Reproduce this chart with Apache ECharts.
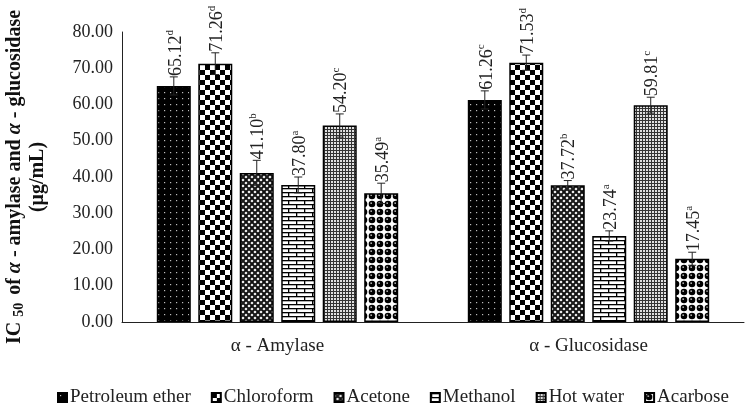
<!DOCTYPE html>
<html>
<head>
<meta charset="utf-8">
<script src="https://cdn.jsdelivr.net/npm/echarts@6/dist/echarts.min.js"></script>
<style>
  html, body { margin: 0; padding: 0; background: #fff; }
  #chart { width: 747px; height: 405px; }
</style>
</head>
<body>
<div id="chart"></div>
<script>
// data
const categories = ['α - Amylase', 'α - Glucosidase'];
const seriesNames = ['Petroleum ether', 'Chloroform', 'Acetone', 'Methanol', 'Hot water', 'Acarbose'];
const petroleumEther = [65.12, 61.26];
const chloroform = [71.26, 71.53];
const acetone = [41.10, 37.72];
const methanol = [37.80, 23.74];
const hotWater = [54.20, 59.81];
const acarbose = [35.49, 17.45];
const seriesValues = [petroleumEther, chloroform, acetone, methanol, hotWater, acarbose];
const errors = [[2.5, 2.5], [3.0, 2.1], [3.5, 1.3], [2.2, 1.4], [3.2, 2.2], [2.8, 1.8]];
const letters = [['d', 'c'], ['d', 'd'], ['b', 'b'], ['a', 'a'], ['c', 'c'], ['a', 'a']];
const yTicks = [0, 10, 20, 30, 40, 50, 60, 70, 80];

const FONT = '"Liberation Serif", "Times New Roman", serif';
const BAR_W = 34;
const BAR_GAP = 0.22;

// fill patterns
function makePattern(w, h, draw) {
  const c = document.createElement('canvas');
  c.width = w; c.height = h;
  draw(c.getContext('2d'));
  return { image: c, repeat: 'repeat' };
}
const patterns = [
  makePattern(6, 6, g => { // black with small dots
    g.fillStyle = '#000'; g.fillRect(0, 0, 6, 6);
    g.fillStyle = '#bbb'; g.fillRect(2, 2, 1.2, 1.2);
  }),
  makePattern(10, 10, g => { // checkerboard
    g.fillStyle = '#fff'; g.fillRect(0, 0, 10, 10);
    g.fillStyle = '#000'; g.fillRect(0, 0, 5, 5); g.fillRect(5, 5, 5, 5);
  }),
  makePattern(6, 6, g => { // dark diamond lattice
    g.fillStyle = '#fff'; g.fillRect(0, 0, 6, 6);
    g.strokeStyle = '#111'; g.lineWidth = 2;
    g.beginPath();
    g.moveTo(0, 0); g.lineTo(6, 6);
    g.moveTo(6, 0); g.lineTo(0, 6);
    g.stroke();
    g.fillStyle = '#444'; g.fillRect(2.5, 2.5, 1, 1);
  }),
  makePattern(16, 8, g => { // brick
    g.fillStyle = '#fff'; g.fillRect(0, 0, 16, 8);
    g.fillStyle = '#000';
    g.fillRect(0, 0, 16, 1.3); g.fillRect(0, 4, 16, 1.3);
    g.fillRect(0, 0, 1.3, 4); g.fillRect(8, 4, 1.3, 4);
  }),
  makePattern(3, 3, g => { // fine grid
    g.fillStyle = '#e0e0e0'; g.fillRect(0, 0, 3, 3);
    g.fillStyle = '#333'; g.fillRect(0, 0, 3, 1); g.fillRect(0, 0, 1, 3);
  }),
  makePattern(8, 8, g => { // spheres
    g.fillStyle = '#fff'; g.fillRect(0, 0, 8, 8);
    g.fillStyle = '#000';
    g.beginPath(); g.arc(4, 4, 3.3, 0, Math.PI * 2); g.fill();
    g.fillStyle = '#fff'; g.fillRect(2.5, 2.5, 1.3, 1.3);
  })
];

const chart = echarts.init(document.getElementById('chart'), null, { renderer: 'canvas' });

const barSeries = seriesNames.map((name, i) => ({
  name: name,
  type: 'bar',
  barWidth: BAR_W,
  barGap: (BAR_GAP * 100) + '%',
  data: seriesValues[i],
  itemStyle: { color: patterns[i], borderColor: '#000', borderWidth: 1.5 },
  emphasis: { disabled: true },
  z: 2
}));

const errSeries = seriesNames.map((name, i) => ({
  name: 'err-' + i,
  type: 'custom',
  z: 5,
  silent: true,
  data: seriesValues[i].map((v, k) => [k, v, errors[i][k]]),
  encode: { x: 0, y: 1 },
  renderItem: (params, api) => {
    const k = params.dataIndex;
    const v = api.value(1), e = api.value(2);
    const off = (i - (seriesNames.length - 1) / 2) * BAR_W * (1 + BAR_GAP);
    const top = api.coord([api.value(0), v + e]);
    const bot = api.coord([api.value(0), v - e]);
    const x = top[0] + off;
    const cap = 4;
    const ls = { stroke: '#222', lineWidth: 1 };
    return {
      type: 'group',
      children: [
        { type: 'line', shape: { x1: x, y1: top[1], x2: x, y2: bot[1] }, style: ls },
        { type: 'line', shape: { x1: x - cap, y1: top[1], x2: x + cap, y2: top[1] }, style: ls },
        { type: 'line', shape: { x1: x - cap, y1: bot[1], x2: x + cap, y2: bot[1] }, style: ls },
        {
          type: 'text',
          x: x + 1,
          y: top[1] - 1,
          rotation: Math.PI / 2,
          style: {
            text: '{v|' + seriesValues[i][k].toFixed(2) + '}{s|' + letters[i][k] + '}',
            align: 'left',
            verticalAlign: 'middle',
            fill: '#222',
            rich: {
              v: { fontFamily: FONT, fontSize: 18, lineHeight: 20, fill: '#222', verticalAlign: 'bottom' },
              s: { fontFamily: FONT, fontSize: 11, lineHeight: 20, fill: '#222', verticalAlign: 'top', padding: [0, 0, 7, 0] }
            }
          }
        }
      ]
    };
  }
}));

const option = {
  backgroundColor: '#fff',
  animation: false,
  grid: { left: 122, right: 3, top: 32, bottom: 83, outerBoundsMode: 'none', containLabel: false },
  legend: {
    data: seriesNames,
    top: 383,
    left: 52,
    itemWidth: 9,
    itemHeight: 9,
    itemGap: 20,
    icon: 'rect',
    textStyle: { fontFamily: FONT, fontSize: 19, color: '#222', padding: [0, 0, 0, -2] }
  },
  xAxis: {
    type: 'category',
    data: categories,
    axisLine: { lineStyle: { color: '#222', width: 1 } },
    axisTick: { show: false },
    axisLabel: {
      margin: 15,
      fontFamily: FONT,
      fontSize: 19,
      color: '#222'
    }
  },
  yAxis: {
    type: 'value',
    min: yTicks[0],
    max: yTicks[yTicks.length - 1],
    interval: 10,
    splitLine: { show: false },
    axisLine: { show: true, lineStyle: { color: '#222', width: 1 } },
    axisTick: { show: false },
    axisLabel: {
      margin: 9,
      fontFamily: FONT,
      fontSize: 18,
      color: '#222',
      formatter: v => v.toFixed(2)
    },
    name: '{b|IC }{sub|50}{b| of }{i|α}{b| - amylase and }{i|α}{b| - glucosidase}\n{b|(μg/mL)}',
    nameLocation: 'middle',
    nameRotate: 90,
    nameGap: 73,
    nameTextStyle: {
      align: 'center',
      rich: {
        b: { fontFamily: FONT, fontSize: 20, fontWeight: 'bold', color: '#111', lineHeight: 23 },
        i: { fontFamily: FONT, fontSize: 20, fontWeight: 'bold', fontStyle: 'italic', color: '#111', lineHeight: 23 },
        sub: { fontFamily: FONT, fontSize: 14, fontWeight: 'bold', color: '#111', lineHeight: 23, verticalAlign: 'bottom', padding: [5, 3, 0, 0] }
      }
    }
  },
  series: barSeries.concat(errSeries)
};

chart.setOption(option);
</script>
</body>
</html>
